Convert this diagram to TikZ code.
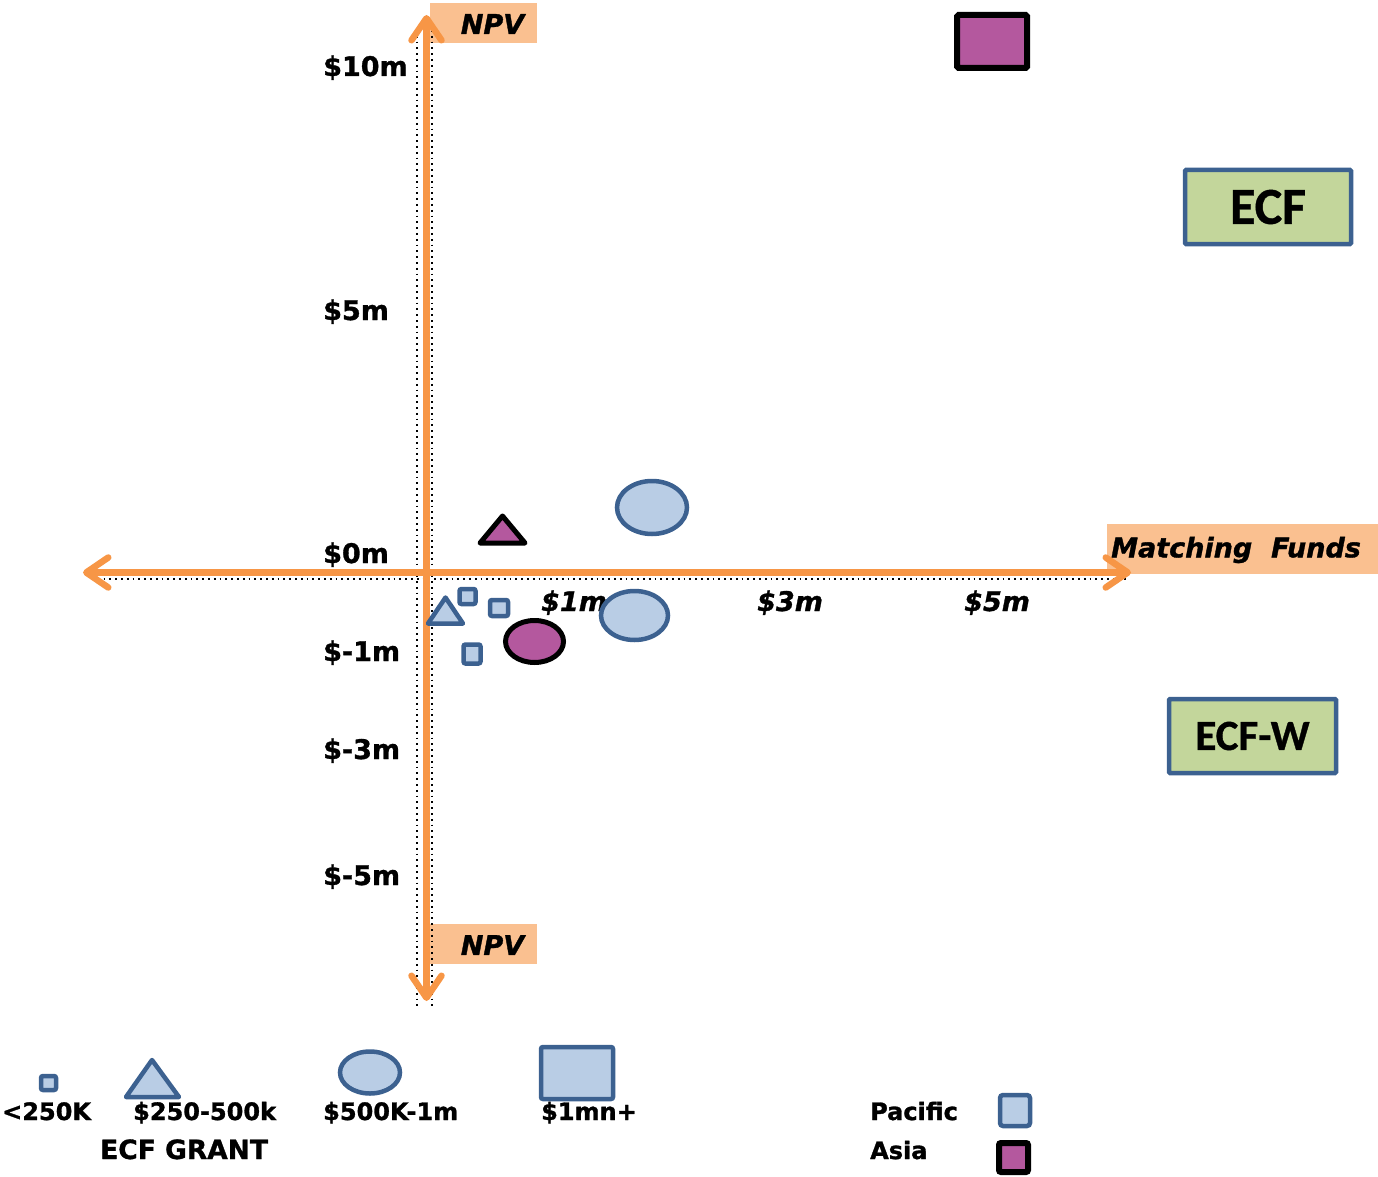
\documentclass[tikz,border=0pt]{standalone}
\usepackage{fontspec}
\setmainfont{DejaVu Sans}[BoldFont={DejaVu Sans Bold},ItalicFont={DejaVu Sans Oblique},BoldItalicFont={DejaVu Sans Bold Oblique},BoldFeatures={FakeBold=1.2},BoldItalicFeatures={FakeBold=1.2}]
\newfontfamily\calfont{Carlito}[BoldFeatures={FakeBold=0.8}]
\usetikzlibrary{arrows.meta,shapes.geometric}
\definecolor{axisorange}{HTML}{F79646}
\definecolor{labelorange}{HTML}{FAC090}
\definecolor{bluefill}{HTML}{B9CDE5}
\definecolor{blueline}{HTML}{3C6190}
\definecolor{purplefill}{HTML}{B4589E}
\definecolor{greenfill}{HTML}{C3D69B}
\tikzset{
  axisline/.style={draw=axisorange, line width=6.5pt, line cap=round,
    {Straight Barb[length=22pt,width=30pt,line cap=round,line join=round]}-{Straight Barb[length=22pt,width=30pt,line cap=round,line join=round]}},
  shadowdots/.style={draw=black, line width=2pt, dash pattern=on 1.8pt off 4pt},
  ticklbl/.style={font=\fontsize{27}{30}\selectfont\bfseries, anchor=base west, inner sep=0pt},
  xtick/.style={font=\fontsize{27}{30}\selectfont\bfseries\itshape, anchor=base west, inner sep=0pt},
  axislbl/.style={font=\fontsize{27}{30}\selectfont\bfseries\itshape, inner sep=0pt},
  labelbox/.style={fill=labelorange, draw=none, rectangle, inner sep=0pt},
  legendlbl/.style={font=\fontsize{24}{28}\selectfont\bfseries, anchor=base west, inner sep=0pt},
  bluesq/.style={rectangle, draw=blueline, fill=bluefill, line width=4.5pt, rounded corners=2pt, inner sep=0pt},
  purplesq/.style={rectangle, draw=black, fill=purplefill, line width=6pt, rounded corners=1.5pt, inner sep=0pt},
  blueell/.style={ellipse, draw=blueline, fill=bluefill, line width=4.5pt, inner sep=0pt},
  purpleell/.style={ellipse, draw=black, fill=purplefill, line width=5pt, inner sep=0pt},
  bluetri/.style={draw=blueline, fill=bluefill, line width=4.5pt, line join=round},
  purpletri/.style={draw=black, fill=purplefill, line width=5pt, line join=round},
  fundbox/.style={rectangle, draw=blueline, fill=greenfill, line width=4.5pt, rounded corners=1pt, inner sep=0pt, font=\calfont\bfseries}
}
\begin{document}
\begin{tikzpicture}[x=1pt,y=-1pt]
\useasboundingbox (0,0) rectangle (1378,1177);

% axis label boxes
\node[labelbox, minimum width=107pt, minimum height=40pt] (npvtopbox) at (483.5,23) {};
\node[labelbox, minimum width=107pt, minimum height=40pt] (npvbotbox) at (483.5,944) {};
\node[labelbox, minimum width=271pt, minimum height=50pt] (mfbox) at (1242.5,549) {};

% dotted shadow of axes
\coordinate (vt) at (417,30);
\coordinate (vb) at (417,1008);
\coordinate (vt2) at (432,30);
\coordinate (vb2) at (432,1008);
\coordinate (hl) at (92,578.5);
\coordinate (hr) at (1126,578.5);
\draw[shadowdots] (vt) -- (vb);
\draw[shadowdots] (vt2) -- (vb2);
\draw[shadowdots] (hl) -- (hr);

% axes
\coordinate (ybot) at (426.5,1001);
\coordinate (ytop) at (426.5,15);
\coordinate (xleft) at (83,572.5);
\coordinate (xright) at (1131,572.5);
\draw[axisline] (ybot) -- (ytop);
\draw[axisline] (xleft) -- (xright);

% axis labels
\node[axislbl] (npvtop) at (492.5,24) {NPV};
\node[axislbl] (npvbot) at (492.5,945) {NPV};
\node[axislbl] (mf) at (1236,550) {Matching\hspace{0.7em}Funds};

% tick labels
\node[ticklbl] (t10) at (323,76) {\$10m};
\node[ticklbl] (t5) at (323,320) {\$5m};
\node[ticklbl] (t0) at (323,563) {\$0m};
\node[ticklbl] (tm1) at (323,661) {\$-1m};
\node[ticklbl] (tm3) at (323,759) {\$-3m};
\node[ticklbl] (tm5) at (323,885) {\$-5m};
\node[xtick] (x1) at (541,611) {\$1m};
\node[xtick] (x3) at (757,611) {\$3m};
\node[xtick] (x5) at (964,611) {\$5m};

% fund boxes
\node[fundbox, minimum width=166pt, minimum height=74pt, font=\calfont\bfseries\fontsize{52}{56}\selectfont] (ecf) at (1268,207) {ECF};
\node[fundbox, minimum width=167pt, minimum height=74pt, font=\calfont\bfseries\fontsize{43}{48}\selectfont] (ecfw) at (1252.5,736) {ECF-W};

% data points
\node[purplesq, minimum width=70pt, minimum height=53pt] (asiabig) at (992,41.5) {};
\node[blueell, minimum width=70pt, minimum height=53pt] (ell1) at (652,507.5) {};
\node[blueell, minimum width=67pt, minimum height=49pt] (ell2) at (634.5,615.5) {};
\node[purpleell, minimum width=58pt, minimum height=42pt] (ell3) at (534.5,641.5) {};
\draw[purpletri] (502.5,516) -- (525,543) -- (480,543) -- cycle;
\draw[bluetri] (445.5,597.5) -- (463,623.5) -- (428,623.5) -- cycle;
\node[bluesq, minimum width=16pt, minimum height=15pt] (sq1) at (467.5,596.5) {};
\node[bluesq, minimum width=18pt, minimum height=16pt] (sq2) at (499,608) {};
\node[bluesq, minimum width=17pt, minimum height=19pt] (sq3) at (472,654) {};

% legend shapes
\node[bluesq, minimum width=15pt, minimum height=14pt] (lsq) at (48.5,1083) {};
\draw[bluetri] (152,1060) -- (179,1097) -- (126,1097) -- cycle;
\node[blueell, minimum width=60pt, minimum height=42pt] (lell) at (370,1072.5) {};
\node[bluesq, minimum width=72pt, minimum height=52pt] (lbig) at (577,1073) {};

% legend labels
\node[legendlbl] (l1) at (2,1120) {<250K};
\node[legendlbl] (l2) at (133,1120) {\$250-500k};
\node[legendlbl] (l3) at (323,1120) {\$500K-1m};
\node[legendlbl] (l4) at (541,1120) {\$1mn+};
\node[legendlbl, font=\fontsize{26.5}{30}\selectfont\bfseries] (lg) at (100,1159) {ECF GRANT};

% region legend
\node[legendlbl] (pac) at (870,1120) {Pacific};
\node[legendlbl] (asia) at (870,1159) {Asia};
\node[bluesq, minimum width=30pt, minimum height=31pt, rounded corners=3pt] (pacsq) at (1015,1110.5) {};
\node[purplesq, minimum width=29pt, minimum height=29pt, rounded corners=2pt] (asiasq) at (1013.5,1157.5) {};
\end{tikzpicture}
\end{document}
